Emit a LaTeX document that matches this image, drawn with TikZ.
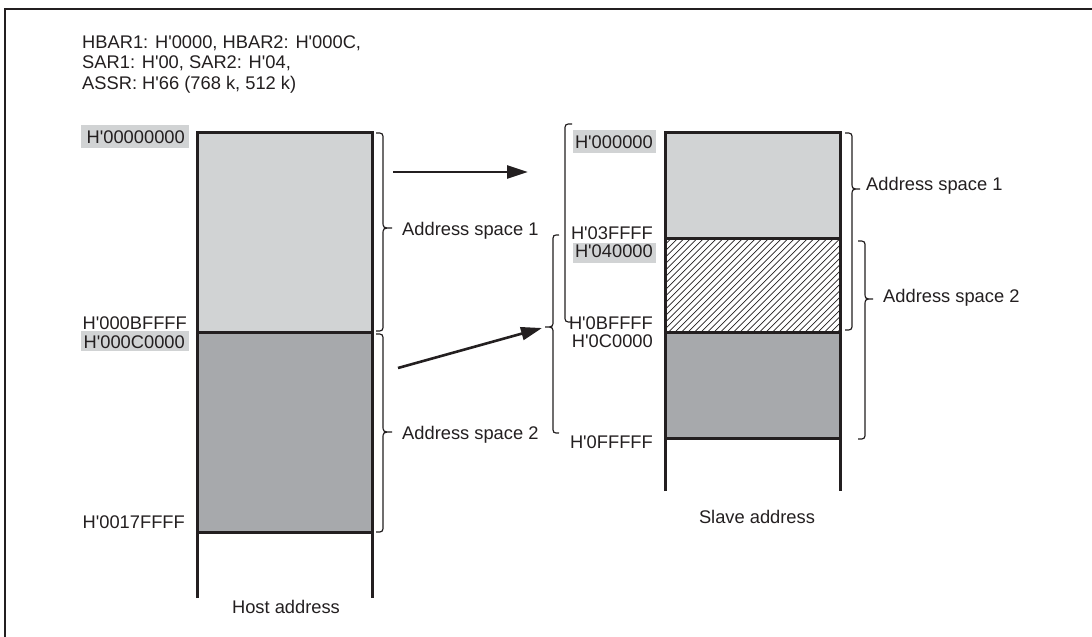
\documentclass[tikz,border=0pt]{standalone}
\usepackage{fontspec}
\setmainfont{Liberation Sans}
\usetikzlibrary{arrows.meta}
\definecolor{ink}{HTML}{231F20}
\definecolor{lightfill}{HTML}{D1D3D4}
\definecolor{darkfill}{HTML}{A7A9AC}
\newcommand{\qq}{\textquotesingle}
\newcommand{\bracepath}[6]{%
  \draw[bracestyle] (#1,#4) .. controls (#2,#4) .. (#2,#4+7) -- (#2,#6-7)
    .. controls (#2,#6) .. (#3,#6) .. controls (#2,#6) .. (#2,#6+7)
    -- (#2,#5-7) .. controls (#2,#5) .. (#1,#5);}
\begin{document}
\begin{tikzpicture}[x=1pt,y=-1pt,
  font=\fontsize{18.3}{21}\selectfont, text=ink,
  lbl/.style={anchor=base east, inner xsep=4pt, inner ysep=0pt},
  txt/.style={anchor=base west, inner sep=0pt},
  ctr/.style={anchor=base, inner sep=0pt},
  colline/.style={draw=ink, line width=3pt},
  bracestyle/.style={draw=ink, line width=1.2pt},
  arr/.style={draw=ink, line width=2.6pt, -{Triangle[length=21pt,width=13pt]}},
  hl/.style={fill=lightfill},
  hatchline/.style={draw=ink, line width=0.7pt}]
\useasboundingbox (0,0) rectangle (1092,637);
\fill[white] (0,0) rectangle (1092,637);
% frame
\draw[ink, line width=2pt] (5,637) -- (5,9) -- (1092,9);
% header text
\node[txt] (h1) at (82,48) {HBAR1: H\qq 0000, HBAR2: H\qq 000C,};
\node[txt] (h2) at (82,68.5) {SAR1: H\qq 00, SAR2: H\qq 04,};
\node[txt] (h3) at (82,89.5) {ASSR: H\qq 66 (768 k, 512 k)};
% ---------- host column
\fill[lightfill] (197,132) rectangle (372,332);
\fill[darkfill] (197,332) rectangle (372,532);
\draw[colline] (197,598) -- (197,132) -- (372,132) -- (372,598);
\draw[colline] (197,332) -- (372,332);
\draw[colline] (197,532) -- (372,532);
% host labels
\fill[hl] (81,125) rectangle (189,148);
\fill[hl] (81,331) rectangle (189,351);
\node[lbl] (ha) at (189,143) {H\qq 00000000};
\node[lbl] (hb) at (191,329.5) {H\qq 000BFFFF};
\node[lbl] (hc) at (189,348) {H\qq 000C0000};
\node[lbl] (hd) at (189,528) {H\qq 0017FFFF};
\node[ctr] (hostlbl) at (286,613) {Host address};
% host braces
\bracepath{376}{383}{392}{133}{331}{228}
\bracepath{376}{383}{392}{334}{532}{432}
\node[txt] (as1h) at (402,235) {Address space 1};
\node[txt] (as2h) at (402,439) {Address space 2};
% ---------- slave column
\fill[lightfill] (665,132) rectangle (840,238);
\fill[darkfill] (665,332) rectangle (840,438);
\begin{scope}
  \clip (665,238) rectangle (840,332);
  \foreach \i in {0,...,44} {
    \draw[hatchline] (571+\i*6.5,332) -- ++(94,-94);
  }
\end{scope}
\draw[colline] (665,491) -- (665,132) -- (840,132) -- (840,491);
\draw[colline] (665,238) -- (840,238);
\draw[colline] (665,332) -- (840,332);
\draw[colline] (665,438) -- (840,438);
% slave labels
\fill[hl] (573,130) rectangle (656,153);
\fill[hl] (573,243) rectangle (656,263);
\node[lbl] (sa) at (657,148) {H\qq 000000};
\node[lbl] (sb) at (657,239.5) {H\qq 03FFFF};
\node[lbl] (sc) at (657,257.5) {H\qq 040000};
\node[lbl] (sd) at (657,329) {H\qq 0BFFFF};
\node[lbl] (se) at (657,347.5) {H\qq 0C0000};
\node[lbl] (sf) at (657,448) {H\qq 0FFFFF};
\node[ctr] (slavelbl) at (757,523) {Slave address};
% slave right braces
\bracepath{845}{852}{860}{133}{330}{189}
\bracepath{858}{865}{873}{241}{439}{299}
\node[txt] (as1s) at (866,190) {Address space 1};
\node[txt] (as2s) at (883,302) {Address space 2};
% slave left brackets
\draw[bracestyle] (572,124) .. controls (565,124) .. (565,131) -- (565,315) .. controls (565,322) .. (572,322);
\bracepath{559}{553}{545}{235}{433}{327}
% arrows
\coordinate (a1s) at (393,172);
\coordinate (a1e) at (528,172);
\coordinate (a2s) at (398,368);
\coordinate (a2e) at (542,328);
\draw[arr] (a1s) -- (a1e);
\draw[arr] (a2s) -- (a2e);
\end{tikzpicture}
\end{document}
